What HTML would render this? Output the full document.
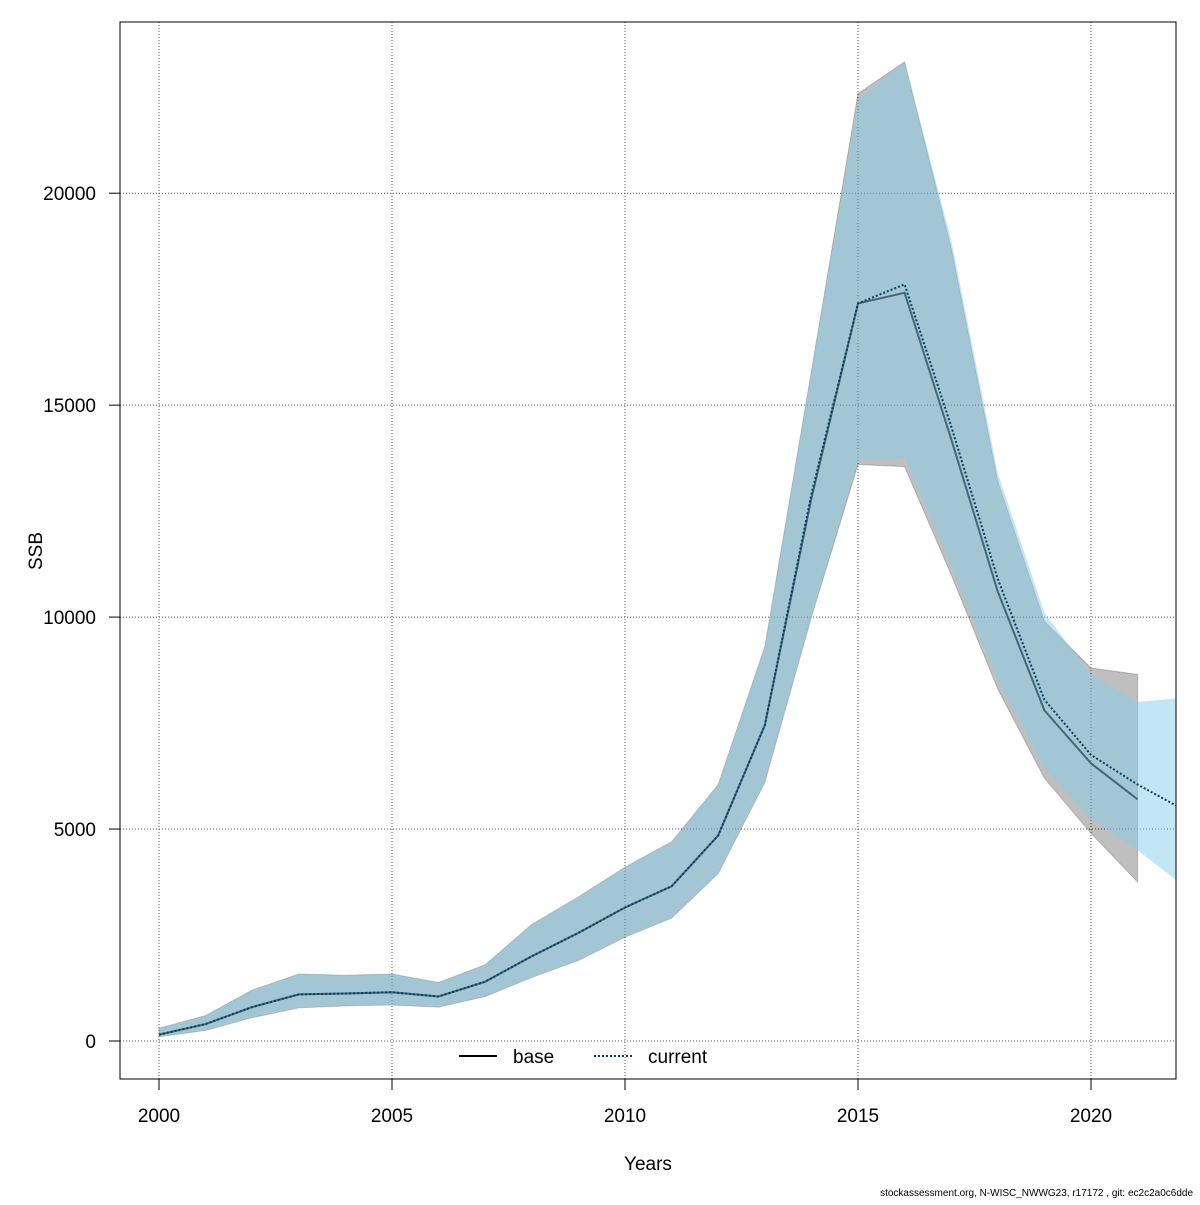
<!DOCTYPE html>
<html><head><meta charset="utf-8"><style>
body{margin:0;background:#fff;font-family:"Liberation Sans",sans-serif}
svg text{font-family:"Liberation Sans",sans-serif}
</style></head><body>
<svg width="1200" height="1200" xmlns="http://www.w3.org/2000/svg">
<defs><clipPath id="pc"><rect x="120" y="22" width="1056" height="1057"/></clipPath></defs>
<g id="grid"></g>
<g id="series" clip-path="url(#pc)"></g>
<rect x="120" y="22" width="1056" height="1057" fill="none" stroke="#000" stroke-width="1"/>
<g id="axes"></g>
<text x="648" y="1170" font-size="19" text-anchor="middle">Years</text>
<text x="42" y="551" font-size="19" text-anchor="middle" transform="rotate(-90 42 551)">SSB</text>
<g>
<line x1="459" y1="1056" x2="497" y2="1056" stroke="#000" stroke-width="2"/>
<text x="513" y="1063" font-size="19">base</text>
<line x1="594" y1="1056" x2="632" y2="1056" stroke="#0a3d62" stroke-width="2" stroke-dasharray="2,2"/>
<text x="648" y="1063" font-size="19">current</text>
</g>
<text x="1193" y="1196" font-size="10" text-anchor="end">stockassessment.org, N-WISC_NWWG23, r17172 , git: ec2c2a0c6dde</text>
</svg>
<script>
const baseYears=[2000,2001,2002,2003,2004,2005,2006,2007,2008,2009,2010,2011,2012,2013,2014,2015,2016,2017,2018,2019,2020,2021];
const baseMean=[150,400,800,1100,1120,1150,1050,1400,2000,2550,3150,3650,4850,7450,12800,17400,17650,14200,10600,7800,6550,5700];
const baseUpper=[300,600,1200,1580,1550,1580,1380,1800,2750,3400,4100,4700,6050,9300,15800,22350,23100,18700,13200,9900,8800,8650];
const baseLower=[100,250,550,780,830,850,800,1050,1500,1900,2450,2900,3950,6100,10000,13600,13550,11000,8300,6200,4900,3750];
const curYears=[2000,2001,2002,2003,2004,2005,2006,2007,2008,2009,2010,2011,2012,2013,2014,2015,2016,2017,2018,2019,2020,2021,2022];
const curMean=[150,400,800,1100,1120,1150,1050,1400,2000,2550,3150,3650,4850,7450,12900,17400,17850,14500,10900,8050,6750,6050,5450];
const curUpper=[300,600,1200,1580,1550,1580,1380,1800,2750,3400,4100,4700,6050,9300,15800,22200,23100,18900,13400,10100,8650,8000,8100];
const curLower=[100,250,550,780,830,850,800,1050,1500,1900,2450,2900,3950,6100,10000,13700,13750,11200,8500,6450,5250,4500,3650];
const xTicks=[2000,2005,2010,2015,2020];
const yTicks=[0,5000,10000,15000,20000];
const NS="http://www.w3.org/2000/svg";
const X=v=>159+(v-2000)*46.6;
const Y=v=>1041-v*0.04239;
function mk(t,a,p){const e=document.createElementNS(NS,t);for(const k in a)e.setAttribute(k,a[k]);p.appendChild(e);return e;}
const grid=document.getElementById('grid'),axes=document.getElementById('axes'),ser=document.getElementById('series');
xTicks.forEach(t=>{
 const g=mk('line',{x1:X(t),x2:X(t),y1:22,y2:1079,stroke:'#555','stroke-dasharray':'1,2'},grid);
 
 
 const tk=mk('line',{x1:X(t),x2:X(t),y1:1079,y2:1090,stroke:'#000'},axes);
 
 
 const tx=mk('text',{x:X(t),y:1122,'font-size':19,'text-anchor':'middle'},axes);tx.textContent=t;
 
 
});
yTicks.forEach(t=>{
 const g=mk('line',{x1:120,x2:1176,y1:Y(t),y2:Y(t),stroke:'#555','stroke-dasharray':'1,2'},grid);
 
 
 const tk=mk('line',{x1:109,x2:120,y1:Y(t),y2:Y(t),stroke:'#000'},axes);
 
 
 const tx=mk('text',{x:96,y:Y(t)+7,'font-size':19,'text-anchor':'end'},axes);tx.textContent=t;
 
 
});
function band(ys,up,lo,fill,stroke,name){
 let d='M'+ys.map((y,i)=>X(y)+','+Y(up[i])).join('L');
 d+='L'+ys.map((y,i)=>[y,i]).reverse().map(([y,i])=>X(y)+','+Y(lo[i])).join('L')+'Z';
 const p=mk('path',{d:d,fill:fill,stroke:stroke,'stroke-width':1},ser);
 
 
}
function line(ys,v,attrs,name){
 const p=mk('polyline',Object.assign({points:ys.map((y,i)=>X(y)+','+Y(v[i])).join(' '),fill:'none'},attrs),ser);
 
 
}
band(baseYears,baseUpper,baseLower,'rgba(0,0,0,0.25)','rgba(0,0,0,0.2)','base-band');
line(baseYears,baseMean,{stroke:'#000','stroke-width':2},'base-line');
band(curYears,curUpper,curLower,'rgba(135,206,235,0.5)','none','current-band');
line(curYears,curMean,{stroke:'#0a3d62','stroke-width':2,'stroke-dasharray':'2,2'},'current-line');
</script>
</body></html>
